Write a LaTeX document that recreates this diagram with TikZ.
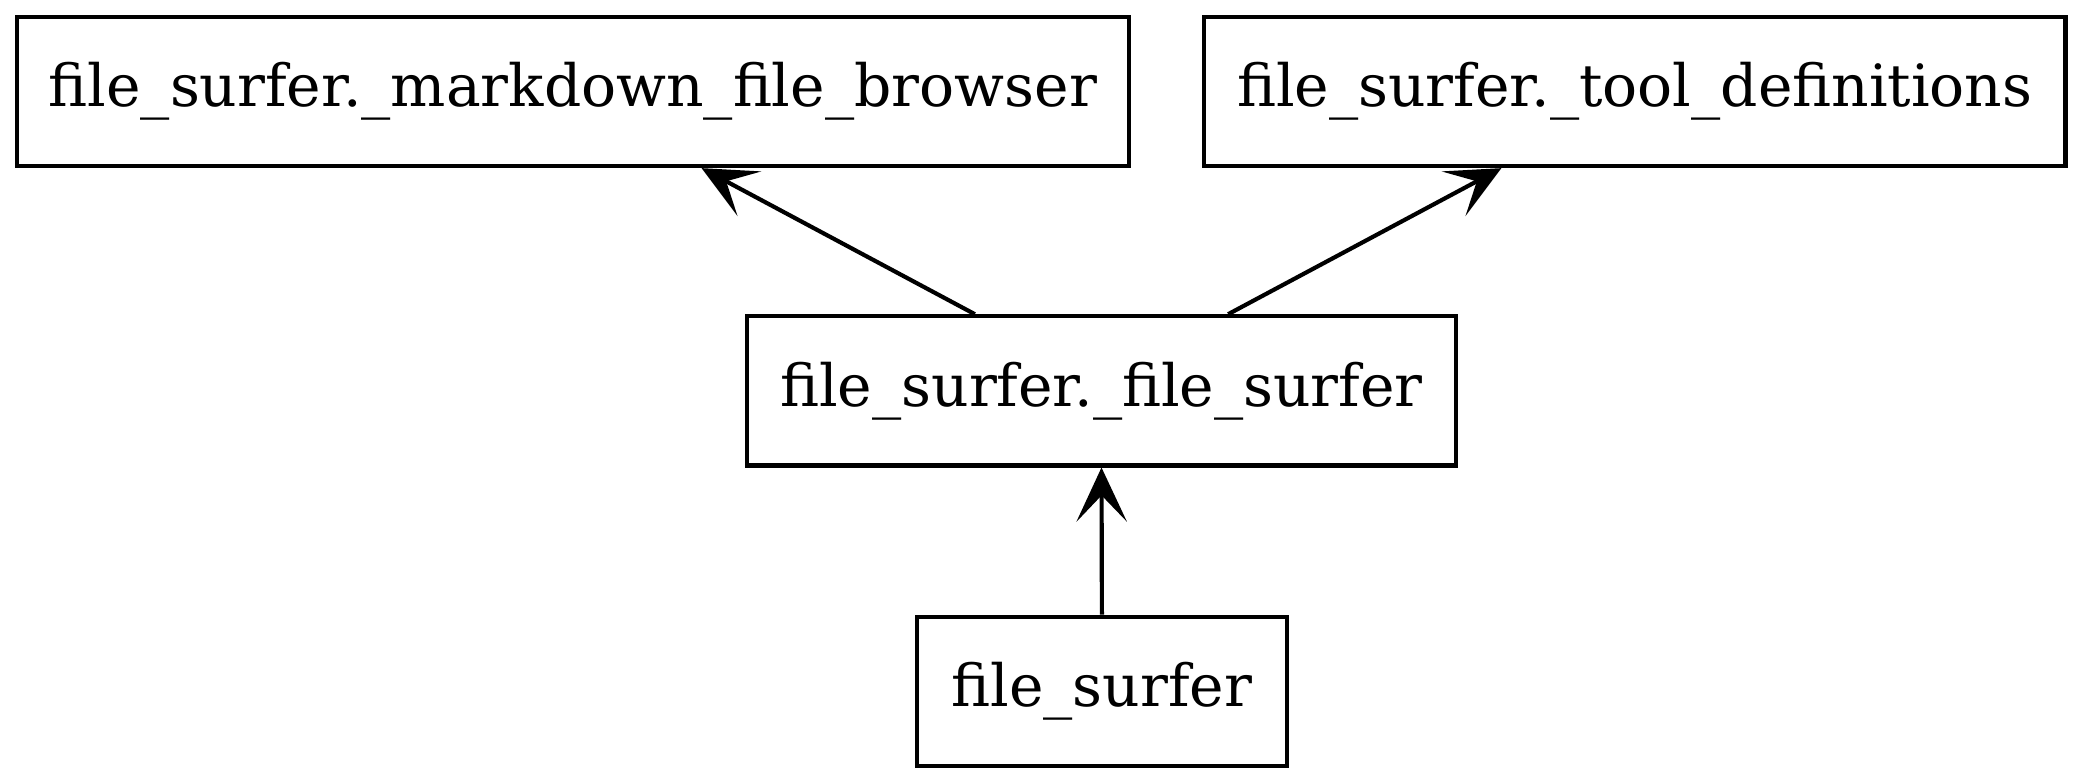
\documentclass[tikz,border=0pt]{standalone}
\usepackage{fontspec}
\setmainfont{DejaVu Serif}
\usetikzlibrary{arrows.meta}
\begin{document}
\begin{tikzpicture}[x=1pt,y=1pt,
  modbox/.style={draw=black, line width=1pt, rectangle, inner sep=0pt,
    minimum height=35.8pt, text height=10pt, text depth=2.6pt,
    font=\fontsize{14}{16}\selectfont},
  dep/.style={line width=1pt, -{Stealth[length=13pt, width=12.1pt, inset=6.3pt]}}]
\useasboundingbox (0,0) rectangle (500,187.92);
\node[modbox, minimum width=266.8pt] (md) at (137.5,165.96) {file\_surfer.\_markdown\_file\_browser};
\node[modbox, minimum width=206.8pt] (tool) at (392.4,165.96) {file\_surfer.\_tool\_definitions};
\node[modbox, minimum width=170pt] (mid) at (264.4,94.1) {file\_surfer.\_file\_surfer};
\node[modbox, minimum width=88.9pt] (bot) at (264.5,22.0) {file\_surfer};
\draw[dep] ([xshift=-30.4pt]mid.north) -- ([xshift=30.9pt]md.south);
\draw[dep] ([xshift=30.4pt]mid.north) -- ([xshift=-32pt]tool.south);
\draw[dep] (bot.north) -- (mid.south);
\end{tikzpicture}
\end{document}
